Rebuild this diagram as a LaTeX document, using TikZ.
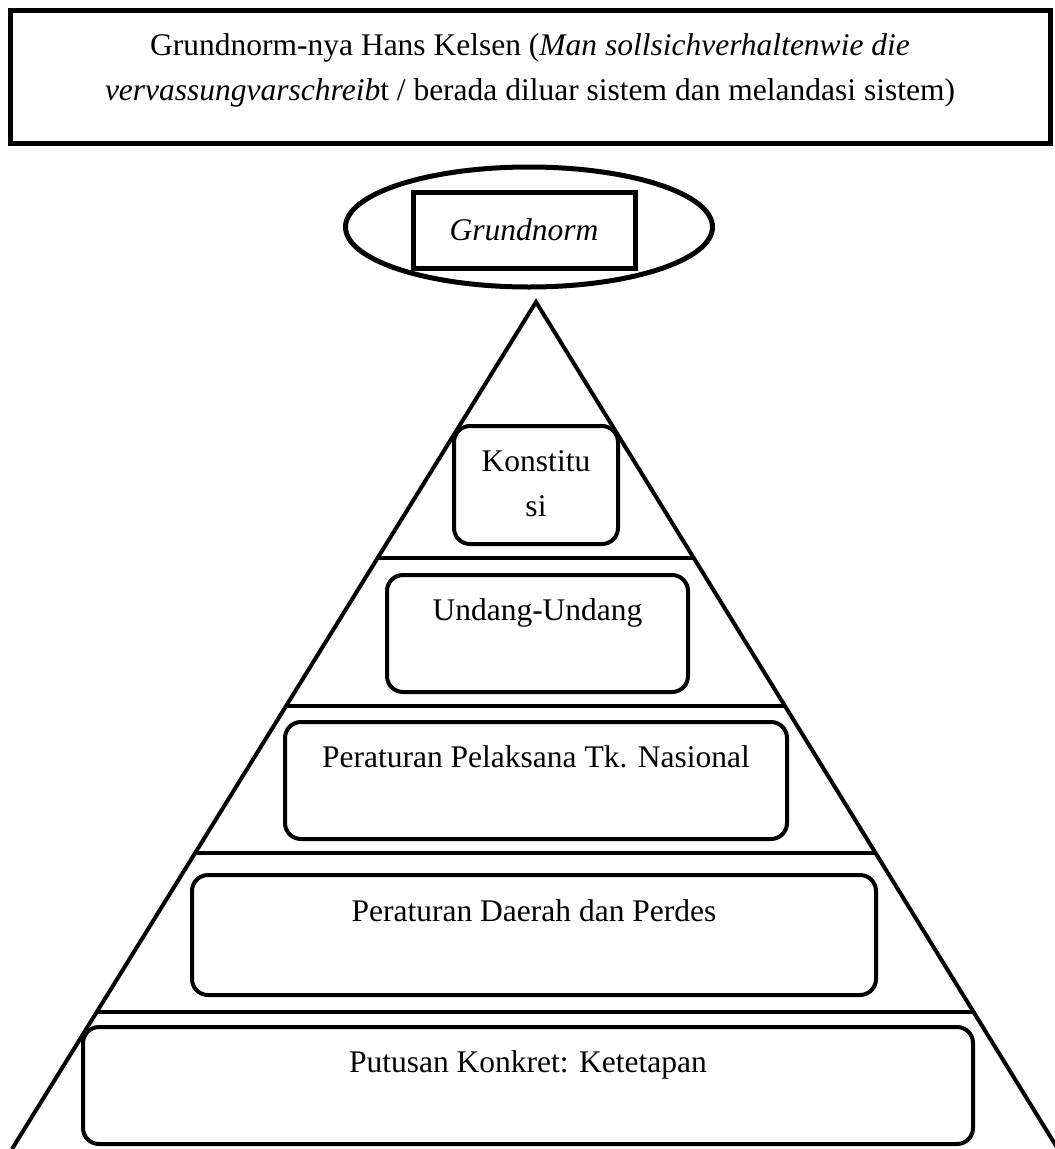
\documentclass[tikz,border=0pt]{standalone}
\usepackage{fontspec}
\setmainfont{Liberation Serif}[ItalicFont={Liberation Serif Italic}]
\usetikzlibrary{calc,shapes.geometric}

\tikzset{
    teks/.style={font=\fontsize{31.5}{45}\selectfont, align=center},
    tingkat/.style={teks, draw, fill=white, line width=4pt, rounded corners=16pt,
        inner sep=0pt, minimum height=117},
    garis/.style={line width=4pt}
}

\begin{document}
\begin{tikzpicture}[x=1pt, y=-1pt]
    \useasboundingbox (0,0) rectangle (1055,1149);

    % Header
    \node[teks, draw, line width=5pt, minimum width=1040, minimum height=133, text depth=28pt] (judul) at (530,76.5)
        {\strut Grundnorm-nya Hans Kelsen (\textit{Man sollsichverhaltenwie die}\\
         \strut\textit{vervassungvarschreib}t / berada diluar sistem dan melandasi sistem)};

    % Grundnorm
    \node[draw, ellipse, line width=5pt, minimum width=367, minimum height=120] (elips) at (529,227) {};
    \node[teks, draw, line width=5pt, minimum width=222, minimum height=76] (grundnorm) at (524,230)
        {\textit{Grundnorm}};

    % Pyramid
    \coordinate (puncak) at (536,302);
    \coordinate (kiri) at (12,1149);
    \coordinate (kanan) at (1058,1149);
    \draw[garis] (kiri) -- (puncak) -- (kanan);

    % Levels
    \foreach \y in {558,706,853,1012} {
        \draw[garis] ($(puncak)!{(\y-302)/847}!(kiri)$) -- ($(puncak)!{(\y-302)/847}!(kanan)$);
    }

    % Boxes
    \node[tingkat, minimum width=164, minimum height=118] (konstitusi) at (536,485)
        {\strut Konstitu\\\strut si};
    \node[tingkat, minimum width=301] (uu) at (537.5,633.5)
        {\strut Undang-Undang\\\strut};
    \node[tingkat, minimum width=502] (pelaksana) at (536,780.5)
        {\strut Peraturan Pelaksana Tk. Nasional\\\strut};
    \node[tingkat, minimum width=684, minimum height=120] (perda) at (534,935)
        {\strut Peraturan Daerah dan Perdes\\\strut};
    \node[tingkat, minimum width=890] (putusan) at (528,1085.5)
        {\strut Putusan Konkret: Ketetapan\\\strut};
\end{tikzpicture}
\end{document}
